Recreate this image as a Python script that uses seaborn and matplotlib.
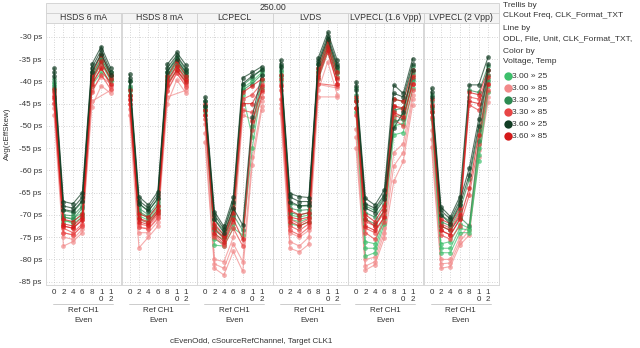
import numpy as np
import pandas as pd
import seaborn as sns
import matplotlib
matplotlib.use("Agg")
import matplotlib.pyplot as plt
from matplotlib.patches import Rectangle
from matplotlib.lines import Line2D

nan = float("nan")

# ---------------- data ----------------
x_positions = [0, 2, 4, 6, 8, 10, 12]
x_tick_labels = ["0", "2", "4", "6", "8", "1\n0", "1\n2"]
y_ticks = [-30, -35, -40, -45, -50, -55, -60, -65, -70, -75, -80, -85]
panel_names = ["HSDS 6 mA", "HSDS 8 mA", "LCPECL", "LVDS", "LVPECL (1.6 Vpp)", "LVPECL (2 Vpp)"]
group_names = ["3.00 » 25", "3.00 » 85", "3.30 » 25", "3.30 » 85", "3.60 » 25", "3.60 » 85"]
group_colors = ["#3dbf6b", "#f28a8a", "#2e8b52", "#e84646", "#123d24", "#d41a1a"]

# each panel: lines per colour group, in group_names order
hsds6 = [
    [[-40.5, -70.5, -70.8, -69.5, -39.0, -35.0, -38.6], [-41.5, -71.5, -71.5, -70.0, -40.0, -36.0, -39.8], [-42.0, -71.0, -72.0, -70.5, -41.0, -38.0, -40.0]],
    [[-45.0, -74.0, -74.5, -72.5, -42.0, -39.0, -40.5], [-46.0, -75.0, -75.5, -73.2, -44.5, nan, -42.0], [-47.5, -77.0, -76.0, -74.0, -45.7, -41.0, -42.7]],
    [[-39.5, -69.0, -69.5, -67.0, -38.0, -34.0, -38.0], [-40.2, -70.0, -70.2, -68.0, -38.8, -34.8, -38.8], [-41.0, -70.5, -71.0, -68.5, -39.5, -35.5, -39.5]],
    [[-43.0, -72.5, -73.0, -71.0, -39.8, -36.0, -39.0], [-44.0, -73.0, -74.0, -72.0, -41.0, -37.0, -41.0], [-44.8, -74.0, -74.5, -72.5, -42.5, -38.5, -41.8]],
    [[-37.0, -67.0, -67.5, -65.0, -36.2, -32.2, -37.0], [-38.0, -68.0, -68.5, -66.0, -37.0, -33.0, -37.8], [-38.8, -68.8, -69.2, -66.8, -37.8, -33.8, -38.5]],
    [[-41.8, -71.0, -71.5, -69.8, -38.5, -34.0, -38.5], [-42.5, -72.0, -72.5, -70.5, -39.5, -35.5, -39.5], [-43.5, -72.5, -73.0, -71.2, -40.5, -37.0, -40.5]],
]
hsds8 = [
    [[-41.5, -69.5, -70.8, -68.5, -39.0, -35.5, -38.5], [-42.2, -70.2, -71.2, -69.0, -39.8, -36.5, -39.2], [-43.0, -71.0, -71.8, -69.5, -40.5, -37.5, -40.0]],
    [[-45.0, -72.8, -73.0, -70.5, -42.0, -38.0, -41.0], [-46.2, -74.0, -74.0, -71.5, -43.5, nan, -42.0], [-47.6, -77.4, -75.0, -72.5, -45.0, -39.7, -42.7]],
    [[-40.0, -67.5, -69.0, -66.5, -37.8, -34.5, -37.5], [-41.0, -68.5, -70.0, -67.2, -38.5, -35.2, -38.2], [-41.8, -69.2, -70.5, -67.8, -39.2, -36.0, -38.8]],
    [[-43.2, -71.0, -71.8, -69.2, -40.2, -36.8, -39.8], [-44.2, -72.0, -72.5, -70.0, -41.2, -37.5, -40.5], [-45.0, -72.8, -73.2, -70.8, -42.2, -38.2, -41.2]],
    [[-38.4, -65.9, -67.8, -64.8, -36.2, -33.5, -36.4], [-39.2, -66.8, -68.5, -65.5, -37.0, -34.2, -37.2], [-40.0, -67.5, -69.2, -66.2, -37.8, -35.0, -38.0]],
    [[-42.0, -69.8, -70.5, -68.0, -38.8, -35.5, -38.8], [-43.0, -70.8, -71.5, -68.8, -39.8, -36.5, -39.5], [-44.0, -71.5, -72.2, -69.5, -40.8, -37.5, -40.2]],
]
lcpecl = [
    [[-45.5, -74.5, -75.5, -70.5, -41.5, -40.0, -38.0], [-46.5, -75.5, -76.5, -72.0, -43.0, -52.5, -40.0], [-47.0, -76.8, -77.0, -73.0, -74.5, -55.0, -41.5]],
    [[-49.5, -80.0, -80.5, -75.0, -47.6, -48.5, -44.5], [-51.5, -81.0, -82.0, -76.5, -80.5, -57.0, -45.5], [-53.6, -82.0, -83.5, -78.2, -82.7, -58.8, -46.5]],
    [[-44.5, -71.0, -73.5, -67.5, -40.8, -39.2, -37.2], [-45.5, -72.5, -74.5, -69.0, -42.0, -40.5, -38.5], [-46.0, -73.5, -75.0, -70.0, -73.5, -50.0, -39.5]],
    [[-46.5, -73.0, -75.5, -70.0, -44.0, -43.0, -40.5], [-47.5, -74.5, -76.5, -71.5, -46.5, -47.0, -42.5], [-48.5, -75.0, -77.0, -73.0, -77.0, -51.0, -43.5]],
    [[-43.5, -69.3, -72.6, -66.0, -39.2, -38.0, -36.7], [-44.5, -70.0, -73.2, -67.0, -40.5, -38.8, -37.5], [-45.5, -71.0, -74.0, -68.5, -72.3, -48.0, -38.5]],
    [[-45.0, -72.0, -74.5, -68.5, -42.5, -41.0, -39.5], [-46.5, -73.0, -75.0, -69.5, -45.0, -45.0, -41.0], [-47.5, -74.0, -76.0, -71.0, -75.5, -49.0, -42.0]],
]
lvds = [
    [[-38.0, -70.0, -70.5, -70.0, -37.5, -31.5, -37.2], [-39.0, -71.0, -71.5, -70.8, -38.5, -32.5, -38.0], [-40.0, -72.0, -72.5, -71.5, -39.5, -33.5, -39.0]],
    [[-45.0, -74.0, -75.0, -73.5, -40.7, nan, -41.5], [-46.0, -76.0, -77.0, -75.0, -42.0, -35.6, -43.0], [-47.2, -77.5, -78.3, -76.6, -43.5, nan, -43.5]],
    [[-36.5, -67.5, -68.0, -68.0, -36.0, -30.5, -36.5], [-37.5, -68.5, -69.0, -68.8, -37.0, -31.2, -37.5], [-38.5, -69.5, -70.0, -69.5, -37.8, -32.0, -38.2]],
    [[-40.5, -71.0, -72.0, -71.0, -38.5, -32.5, -39.0], [-42.0, -72.5, -73.5, -72.0, -39.5, -33.5, -40.5], [-44.0, -73.5, -74.5, -72.8, -40.5, nan, -41.0]],
    [[-35.2, -65.2, -65.9, -66.1, -34.7, -29.0, -35.2], [-36.0, -66.0, -67.0, -67.0, -35.5, -29.8, -36.0], [-36.8, -67.0, -68.0, -67.8, -36.2, -30.5, -36.8]],
    [[-38.5, -69.0, -70.0, -69.5, -37.0, -31.0, -38.0], [-39.5, -70.5, -71.0, -70.5, -38.0, -32.0, -39.5], [-41.0, -71.5, -72.5, -71.5, -39.0, -33.0, -40.5]],
]
lvpecl16 = [
    [[-44.5, -76.0, -76.5, -70.0, -48.0, -47.5, -38.5], [-46.0, -77.5, -77.5, -71.0, -50.0, -49.5, -40.0], [-47.0, -79.3, -78.5, -72.0, -52.0, -51.5, -41.5]],
    [[-50.6, -80.0, -79.5, -73.0, -56.0, -54.0, -43.0], [-52.5, -81.5, -80.5, -74.0, -59.0, -56.0, -44.0], [-55.0, -82.4, -81.2, -75.2, -62.5, -58.0, -45.3]],
    [[-41.5, -68.0, -69.0, -66.0, -44.0, -44.5, -36.5], [-43.0, -69.5, -70.5, -67.5, -46.5, -46.0, -38.0], [-44.0, -71.0, -72.0, -69.0, -49.0, -48.5, -39.5]],
    [[-44.5, -71.5, -72.5, -69.5, -45.5, -46.5, -38.5], [-46.0, -73.0, -74.0, -70.5, -47.5, -48.5, -40.5], [-47.5, -74.0, -75.5, -71.5, -48.6, -50.0, -42.0]],
    [[-40.1, -66.3, -67.8, -64.4, -40.8, -42.7, -34.9], [-41.0, -67.5, -68.5, -65.5, -42.7, -43.5, -36.0], [-42.0, -68.5, -69.5, -66.5, -50.5, -47.0, -37.5]],
    [[-43.5, -70.0, -71.5, -68.0, -44.0, -44.5, -37.5], [-44.5, -71.0, -72.5, -69.0, -45.5, -46.0, -39.0], [-46.0, -72.5, -73.5, -70.5, -47.0, -48.0, -40.5]],
]
lvpecl20 = [
    [[-45.5, -76.5, -76.0, -72.0, -73.0, -55.0, -39.5], [-47.0, -77.5, -77.5, -73.0, -73.5, -56.5, -41.0], [-48.5, -78.5, -78.5, -74.0, -74.0, -58.0, -42.5]],
    [[-51.0, -80.0, -80.0, -75.0, -72.3, -53.0, -42.5], [-53.0, -81.0, -80.8, -76.0, -73.5, -55.5, -43.5], [-54.7, -82.0, -81.6, -76.8, -74.5, -57.0, -44.6]],
    [[-43.0, -70.0, -71.5, -67.5, -42.0, -42.5, -36.5], [-44.5, -71.5, -72.5, -69.0, -62.0, -51.0, -38.5], [-46.0, -72.5, -73.5, -70.5, -72.5, -53.5, -40.0]],
    [[-45.0, -72.0, -73.0, -69.5, -43.5, -44.0, -38.5], [-46.5, -73.5, -74.5, -71.0, -45.3, -46.5, -40.5], [-48.0, -74.5, -75.5, -72.5, -65.5, -54.0, -42.0]],
    [[-41.6, -68.2, -70.4, -65.9, -40.8, -40.8, -34.5], [-42.5, -69.0, -71.0, -66.8, -59.5, -48.5, -36.0], [-43.5, -70.0, -72.0, -67.8, -61.0, -50.0, -37.5]],
    [[-44.0, -71.0, -72.0, -68.5, -42.5, -43.0, -37.5], [-45.5, -72.5, -73.5, -70.0, -44.5, -45.0, -39.0], [-47.0, -73.5, -74.5, -71.0, -64.0, -52.0, -40.5]],
]
panel_data = [hsds6, hsds8, lcpecl, lvds, lvpecl16, lvpecl20]

# ---------------- long table ----------------
rows = []
uid = 0
for pname, pdata in zip(panel_names, panel_data):
    for gname, lines in zip(group_names, pdata):
        for line in lines:
            uid += 1
            for xv, yv in zip(x_positions, line):
                rows.append((pname, gname, uid, xv, yv))
df = pd.DataFrame(rows, columns=["panel", "group", "unit", "x", "y"]).dropna()

# ---------------- figure ----------------
sns.set_style("white")
plt.rcParams["font.family"] = ["Liberation Sans", "DejaVu Sans"]
W, H = 640, 348
fig = plt.figure(figsize=(W / 100, H / 100), dpi=100)


def fx(x):
    return x / W


def fy(y):
    return 1 - y / H


txt_col = "#333333"
grid_col = "#c8c8c8"
border_col = "#d0d0d0"
palette = dict(zip(group_names, group_colors))
draw_order = ["3.00 » 85", "3.00 » 25", "3.30 » 85", "3.30 » 25", "3.60 » 85", "3.60 » 25"]

left0, pw, top, bottom = 46.0, 75.5, 23.0, 285.0

# header bands
fig.patches.append(Rectangle((fx(left0), fy(13)), fx(6 * pw), fy(3) - fy(13), transform=fig.transFigure,
                             facecolor="#f4f4f4", edgecolor=border_col, linewidth=0.6))
fig.text(fx(left0 + 3 * pw), fy(8), "250.00", ha="center", va="center", fontsize=6.3, color=txt_col)

for i, pname in enumerate(panel_names):
    pl = left0 + i * pw
    fig.patches.append(Rectangle((fx(pl), fy(top)), fx(pw), fy(13) - fy(top), transform=fig.transFigure,
                                 facecolor="#f4f4f4", edgecolor=border_col, linewidth=0.6))
    fig.text(fx(pl + pw / 2), fy(18), pname, ha="center", va="center", fontsize=6.3, color=txt_col)

    ax = fig.add_axes([fx(pl), fy(bottom), fx(pw), fy(top) - fy(bottom)])
    sub = df[df["panel"] == pname]
    sns.lineplot(data=sub, x="x", y="y", hue="group", units="unit", estimator=None,
                 hue_order=draw_order, palette=palette, marker="o", markersize=3.4,
                 markeredgewidth=0, linewidth=0.8, alpha=0.7, legend=False, ax=ax)
    ax.set_xlim(-1.7, 14.3)
    ax.set_ylim(-85.75, -26.9)
    ax.set_xticks(x_positions)
    ax.set_xticklabels(x_tick_labels, fontsize=5.8, color=txt_col, linespacing=0.95)
    ax.set_yticks(y_ticks)
    if i == 0:
        ax.set_yticklabels([f"{v} ps" for v in y_ticks], fontsize=5.8, color=txt_col)
    else:
        ax.set_yticklabels([])
    ax.tick_params(length=0, pad=3)
    ax.set_xlabel("")
    ax.set_ylabel("")
    ax.grid(True, linestyle=(0, (1, 2)), color=grid_col, linewidth=0.6)
    ax.set_axisbelow(True)
    for s in ["left", "right", "bottom"]:
        ax.spines[s].set_color("#d8d8d8")
        ax.spines[s].set_linewidth(0.7)
    ax.spines["top"].set_visible(False)

    # hierarchical x labels
    fig.add_artist(Line2D([fx(pl + 7), fx(pl + 67)], [fy(303.5), fy(303.5)], color="#c4c4c4", linewidth=0.6))
    fig.text(fx(pl + 37), fy(311), "Ref CH1", ha="center", va="center", fontsize=5.8, color=txt_col)
    fig.text(fx(pl + 37), fy(320.5), "Even", ha="center", va="center", fontsize=5.8, color=txt_col)

fig.text(fx(7.5), fy(134), "Avg(cEffSkew)", rotation=90, ha="center", va="center", fontsize=5.8, color=txt_col)
fig.text(fx(251), fy(341.5), "cEvenOdd, cSourceRefChannel, Target CLK1", ha="center", va="center",
         fontsize=5.8, color=txt_col)

# legend panel
lx = 503
legend_lines = [(5.5, "Trellis by"), (15.5, "CLKout Freq, CLK_Format_TXT"), (28.5, "Line by"),
                (38.5, "ODL, File, Unit, CLK_Format_TXT,"), (51.5, "Color by"), (61.5, "Voltage, Temp")]
for yy, t in legend_lines:
    fig.text(fx(lx), fy(yy), t, ha="left", va="center", fontsize=6.0, color=txt_col)
for k, (gname, col) in enumerate(zip(group_names, group_colors)):
    yy = 76 + 12 * k
    fig.add_artist(Line2D([fx(508)], [fy(yy)], marker="o", markersize=6.0, color=col, markeredgewidth=0,
                          linestyle="none"))
    fig.text(fx(512.5), fy(yy), gname, ha="left", va="center", fontsize=6.0, color=txt_col)

fig.savefig("out.png", dpi=100, facecolor="white")
